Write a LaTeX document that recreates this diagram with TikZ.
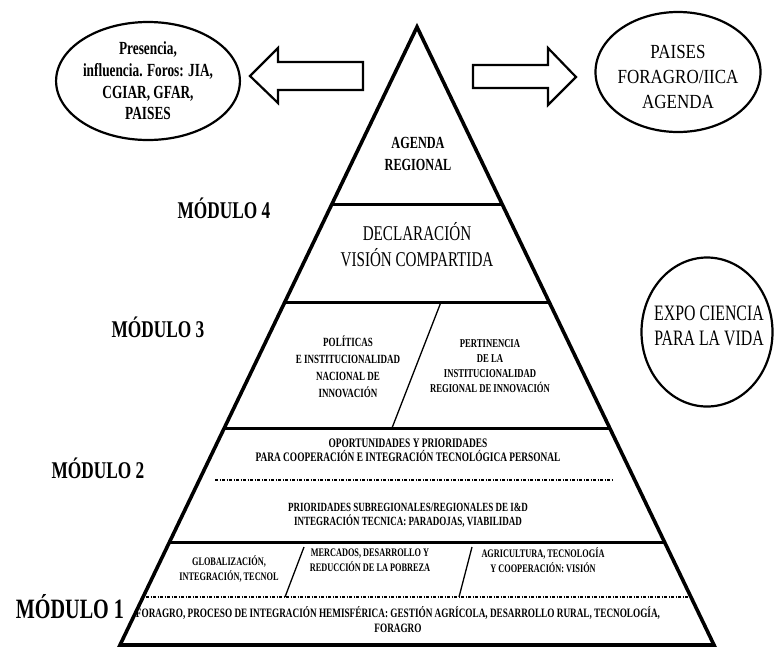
\documentclass[tikz,border=0pt]{standalone}
\usepackage{fontspec}
\setmainfont{Liberation Serif}[FakeStretch=0.72]
\newfontfamily\widefont{Liberation Serif}[FakeStretch=0.85]
\usetikzlibrary{calc,positioning,shapes.geometric}
\newcommand\fs[2]{\fontsize{#1}{#2}\selectfont}

\begin{document}
\begin{tikzpicture}[x=1pt,y=-1pt]
\tikzstyle{pyr}=[line width=3.6pt, line join=miter]
\tikzstyle{sep}=[line width=2.8pt]
\tikzstyle{div}=[line width=1.3pt]
\tikzstyle{dsep}=[line width=1.2pt, dash pattern=on 3pt off 1.5pt on 1pt off 1.5pt]
\tikzstyle{oval}=[draw, ellipse, line width=2.2pt, inner sep=0pt, align=center]
\tikzstyle{blk}=[line width=2.2pt, line join=miter]
\tikzstyle{txt}=[align=center, inner sep=0pt]
\tikzstyle{mod}=[inner sep=0pt, font=\bfseries\fs{24}{26}]

\useasboundingbox (0,0) rectangle (775,649);

% pyramid
\coordinate (apex) at (417,27);
\coordinate (bl) at (120,645);
\coordinate (br) at (714,645);
\draw[pyr] (bl) -- (apex) -- (br) -- cycle;
\draw[sep] ($(bl)!0.7127!(apex)$) -- ($(br)!0.7127!(apex)$);
\draw[sep] ($(bl)!0.5538!(apex)$) -- ($(br)!0.5538!(apex)$);
\draw[sep] ($(bl)!0.3499!(apex)$) -- ($(br)!0.3499!(apex)$);
\draw[sep] ($(bl)!0.1653!(apex)$) -- ($(br)!0.1653!(apex)$);
\draw[div] (441,302) -- (392,428);
\draw[div] (304,547) -- (285,597);
\draw[div] (472,547) -- (459,597);
\draw[dsep] (215,480) -- (613,480);
\draw[dsep] (146,597) -- (690,597);

% texts in the pyramid
\node[txt, font=\bfseries\fs{17}{22}] (agenda) at (418,154) {AGENDA\\REGIONAL};
\node[txt, font=\fs{21}{26}] (decl) at (417,245) {DECLARACIÓN\\VISIÓN COMPARTIDA};
\node[txt, font=\bfseries\fs{12.5}{17}] (pol) at (348,367) {POLÍTICAS\\E INSTITUCIONALIDAD\\NACIONAL DE\\INNOVACIÓN};
\node[txt, font=\bfseries\fs{12}{15}] (pert) at (490,366) {PERTINENCIA\\DE LA\\INSTITUCIONALIDAD\\REGIONAL DE INNOVACIÓN};
\node[txt, font=\bfseries\fs{13}{14}] (oport) at (408,450) {OPORTUNIDADES Y PRIORIDADES\\PARA COOPERACIÓN E INTEGRACIÓN TECNOLÓGICA PERSONAL};
\node[txt, font=\bfseries\fs{12.5}{14}] (prior) at (408,515) {PRIORIDADES SUBREGIONALES/REGIONALES DE I\&D\\INTEGRACIÓN TECNICA: PARADOJAS, VIABILIDAD};
\node[txt, font=\bfseries\fs{11.5}{15}] (glob) at (229,569) {GLOBALIZACIÓN,\\INTEGRACIÓN, TECNOL};
\node[txt, font=\bfseries\fs{11.5}{15}] (merc) at (370,560) {MERCADOS, DESARROLLO Y\\REDUCCIÓN DE LA POBREZA};
\node[txt, font=\bfseries\fs{11.5}{15}] (agri) at (543,560) {AGRICULTURA, TECNOLOGÍA\\Y COOPERACIÓN: VISIÓN};
\node[txt, font=\bfseries\fs{12.8}{15}] (foragro) at (398,620) {FORAGRO, PROCESO DE INTEGRACIÓN HEMISFÉRICA: GESTIÓN AGRÍCOLA, DESARROLLO RURAL, TECNOLOGÍA,\\FORAGRO};

% module labels
\node[mod] (mod4) at (224,208) {MÓDULO 4};
\node[mod] (mod3) at (158,327) {MÓDULO 3};
\node[mod] (mod2) at (98,468) {MÓDULO 2};
\node[mod, font=\bfseries\fs{28}{30}] (mod1) at (70,607) {MÓDULO 1};

% ovals
\node[oval, minimum width=163pt, minimum height=118pt, font=\bfseries\fs{18.5}{21.7}] (pres) at (148,81) {Presencia,\\influencia. Foros: JIA,\\CGIAR, GFAR,\\PAISES};
\node[oval, minimum width=165pt, minimum height=120pt] (paises) at (678,72) {};
\node[txt, font=\widefont\fs{20}{25}] (paisestxt) at (678,77) {PAISES\\FORAGRO/IICA\\AGENDA};
\node[oval, minimum width=131pt, minimum height=149pt] (expo) at (707,332) {};
\node[txt, font=\fs{22}{25}] (expotxt) at (709,326) {EXPO CIENCIA\\PARA LA VIDA};

% block arrows
\coordinate (ltip) at (250,76);
\coordinate (rtip) at (576,77);
\draw[blk] (ltip) -- ++(28,-28) -- ++(0,14) -- ++(85,0) -- ++(0,28) -- ++(-85,0) -- ++(0,13) -- cycle;
\draw[blk] (rtip) -- ++(-28,-29) -- ++(0,17) -- ++(-75,0) -- ++(0,23) -- ++(75,0) -- ++(0,17) -- cycle;
\end{tikzpicture}
\end{document}
